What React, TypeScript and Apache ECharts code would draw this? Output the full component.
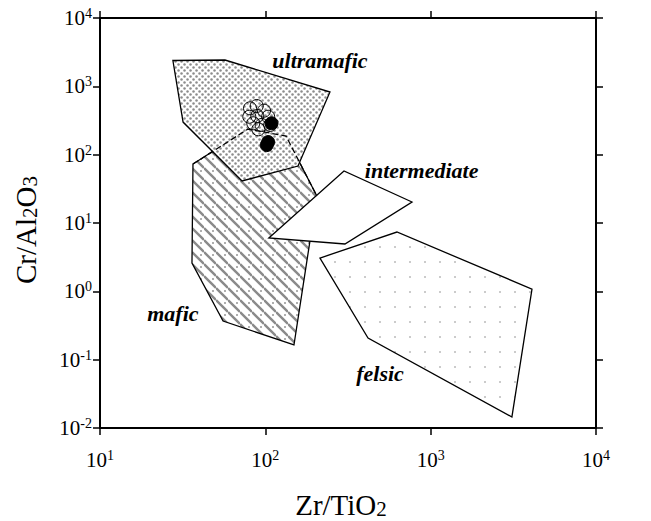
import React, { useEffect, useRef } from "react";
import * as echarts from "echarts";

// Axis ranges (decades)
const xRange = [10, 10000];
const yRange = [0.01, 10000];

// Field polygons [Zr/TiO2, Cr/Al2O3]
const ultramaficZone = [
  [27.6, 2388], [57.0, 2427], [246, 826], [157.6, 68.2], [72.3, 41.2], [31.8, 300],
];
const maficZone = [
  [36.5, 73.0], [78.5, 237], [133.4, 187.5], [205, 24.8], [149, 0.164], [55.5, 0.368], [36.0, 2.6],
];
const maficHiddenEdge = [
  [36.5, 73.0], [78.5, 237], [133.4, 187.5], [205, 24.8],
];
const intermediateZone = [
  [105, 6.03], [299, 57.7], [771, 20.3], [303, 4.93],
];
const felsicZone = [
  [214, 3.07], [625, 7.38], [4100, 1.08], [3100, 0.0145], [418, 0.2075],
];

// Samples
const openSamples = [
  [80.8, 477], [88.7, 515], [98.2, 440], [80, 359], [89.4, 368], [104, 359],
  [84.5, 288], [95, 272], [107, 272], [90.7, 235],
];
const filledSamples = [
  [109, 288], [102, 138], [104, 153],
];

// Field labels
const zoneLabelNames = ["ultramafic", "intermediate", "mafic", "felsic"];
const zoneLabelPos = [[214, 2350], [882, 57.7], [27.6, 0.476], [494, 0.0617]];

const SERIF = "'Liberation Serif', 'Times New Roman', serif";

function makePattern(size: number, draw: (ctx: CanvasRenderingContext2D) => void) {
  const c = document.createElement("canvas");
  c.width = size;
  c.height = size;
  const ctx = c.getContext("2d")!;
  ctx.fillStyle = "#fff";
  ctx.fillRect(0, 0, size, size);
  draw(ctx);
  return { image: c.toDataURL(), repeat: "repeat", imageWidth: size, imageHeight: size };
}

const powLabel = (v: number) => {
  const e = Math.round(Math.log10(v));
  return `{b|10}{s|${e}}`;
};

const labelRich = {
  b: { fontSize: 21, fontFamily: SERIF, color: "#000", lineHeight: 23 },
  s: { fontSize: 14, fontFamily: SERIF, color: "#000", lineHeight: 14, verticalAlign: "top" },
};

export default function App() {
  const ref = useRef<HTMLDivElement>(null);
  useEffect(() => {
    if (!ref.current) return;
    const chart = echarts.init(ref.current, undefined, { renderer: "svg" });

    const stipple = makePattern(6, (ctx) => {
      ctx.fillStyle = "#8c8c8c";
      ctx.beginPath(); ctx.arc(1.5, 1.5, 1.25, 0, Math.PI * 2); ctx.fill();
      ctx.beginPath(); ctx.arc(4.5, 4.5, 1.25, 0, Math.PI * 2); ctx.fill();
    });
    const hatch = makePattern(12, (ctx) => {
      ctx.strokeStyle = "#8a8a8a";
      ctx.lineWidth = 2.4;
      for (let k = -1; k <= 1; k++) {
        ctx.beginPath();
        ctx.moveTo(0, k * 12);
        ctx.lineTo(12, 12 + k * 12);
        ctx.stroke();
      }
      ctx.fillStyle = "#222";
      ctx.beginPath(); ctx.arc(9, 3, 0.7, 0, Math.PI * 2); ctx.fill();
    });
    const sparse = makePattern(15, (ctx) => {
      ctx.fillStyle = "#888";
      ctx.beginPath(); ctx.arc(5, 7, 0.8, 0, Math.PI * 2); ctx.fill();
    });

    const polygonSeries = (pts: number[][], fill: any, z: number) => ({
      type: "custom",
      coordinateSystem: "cartesian2d",
      silent: true,
      z,
      data: [pts[0]],
      renderItem: (_p: any, api: any) => ({
        type: "polygon",
        shape: { points: pts.map((p) => api.coord(p)) },
        style: { fill, stroke: "#000", lineWidth: 1.3 },
      }),
    });

    const axisCommon = {
      type: "log",
      logBase: 10,
      axisLine: { show: true, onZero: false, lineStyle: { color: "#000", width: 2 } },
      axisTick: { show: true, inside: false, length: 7, lineStyle: { color: "#000", width: 1.5 } },
      splitLine: { show: false },
      minorTick: { show: false },
    };

    chart.setOption({
      animation: false,
      backgroundColor: "#fff",
      grid: { left: 100, right: 55, top: 18, bottom: 93 },
      xAxis: [
        {
          ...axisCommon,
          position: "bottom",
          min: xRange[0],
          max: xRange[1],
          axisLabel: { formatter: powLabel, rich: labelRich, margin: 20 },
        },
        {
          ...axisCommon,
          position: "top",
          min: xRange[0],
          max: xRange[1],
          axisLabel: { show: false },
        },
      ],
      yAxis: [
        {
          ...axisCommon,
          position: "left",
          min: yRange[0],
          max: yRange[1],
          axisLabel: { formatter: powLabel, rich: labelRich, margin: 8 },
        },
        {
          ...axisCommon,
          position: "right",
          min: yRange[0],
          max: yRange[1],
          axisLabel: { show: false },
        },
      ],
      graphic: [
        {
          type: "text",
          x: 341,
          y: 505,
          style: {
            text: "{a|Zr/TiO}{b|2}",
            textAlign: "center",
            textVerticalAlign: "middle",
            rich: {
              a: { fontSize: 29, fontFamily: SERIF, color: "#000", lineHeight: 29, verticalAlign: "bottom" },
              b: { fontSize: 21, fontFamily: SERIF, color: "#000", lineHeight: 21, verticalAlign: "bottom" },
            },
          },
        },
        {
          type: "text",
          x: 26,
          y: 230,
          rotation: Math.PI / 2,
          style: {
            text: "{a|Cr/Al}{b|2}{a|O}{b|3}",
            textAlign: "center",
            textVerticalAlign: "middle",
            rich: {
              a: { fontSize: 29, fontFamily: SERIF, color: "#000", lineHeight: 29, verticalAlign: "bottom" },
              b: { fontSize: 21, fontFamily: SERIF, color: "#000", lineHeight: 21, verticalAlign: "bottom" },
            },
          },
        },
      ],
      series: [
        polygonSeries(maficZone, hatch, 2),
        polygonSeries(intermediateZone, "#fff", 3),
        polygonSeries(felsicZone, sparse, 3),
        polygonSeries(ultramaficZone, stipple, 4),
        {
          type: "custom",
          coordinateSystem: "cartesian2d",
          silent: true,
          z: 5,
          data: [maficHiddenEdge[0]],
          renderItem: (_p: any, api: any) => ({
            type: "polyline",
            shape: { points: maficHiddenEdge.map((p) => api.coord(p)) },
            style: { fill: "none", stroke: "#000", lineWidth: 1.3, lineDash: [6, 3] },
          }),
        },
        {
          type: "scatter",
          z: 6,
          symbol: "circle",
          symbolSize: 13,
          data: filledSamples,
          itemStyle: { color: "#000", borderColor: "#000", borderWidth: 1, opacity: 1 },
        },
        {
          type: "scatter",
          z: 7,
          symbol: "circle",
          symbolSize: 13,
          data: openSamples,
          itemStyle: { color: "rgba(0,0,0,0)", borderColor: "#000", borderWidth: 1, opacity: 1 },
        },
        {
          type: "scatter",
          z: 8,
          symbolSize: 0,
          silent: true,
          data: zoneLabelNames.map((n, i) => ({ name: n, value: zoneLabelPos[i] })),
          label: {
            show: true,
            position: "inside",
            formatter: "{b}",
            fontFamily: SERIF,
            fontStyle: "italic",
            fontWeight: "bold",
            fontSize: 22,
            color: "#000",
            textBorderWidth: 0,
            opacity: 1,
          },
        },
      ],
    });
    return () => chart.dispose();
  }, []);
  return (
    <div
      ref={ref}
      style={{ position: "fixed", left: 0, top: 0, width: 651, height: 521, background: "#fff" }}
    />
  );
}
